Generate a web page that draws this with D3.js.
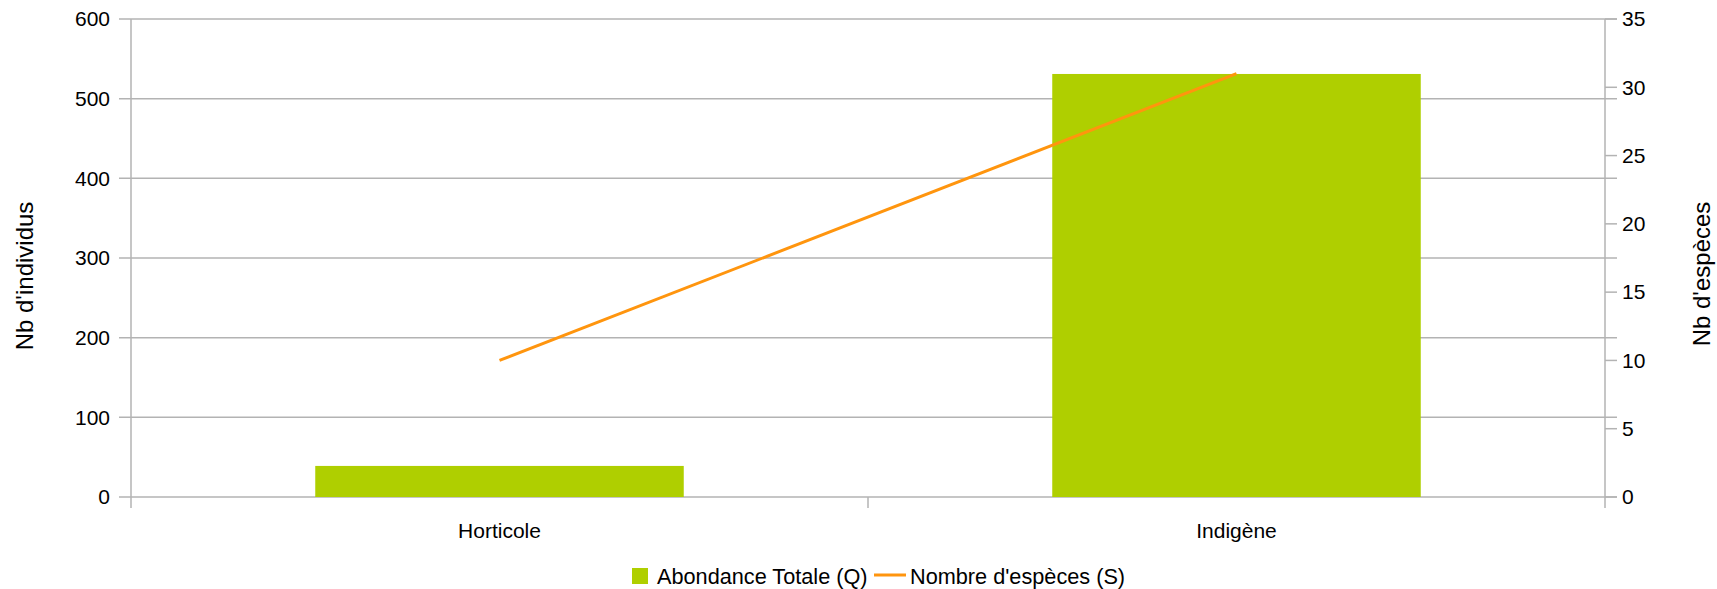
<!DOCTYPE html>
<html>
<head>
<meta charset="utf-8">
<script src="https://cdn.jsdelivr.net/npm/d3@7"></script>
<style>
  html, body { margin: 0; padding: 0; background: #fff; }
  svg { display: block; font-family: "Liberation Sans", Arial, sans-serif; }
</style>
</head>
<body>
<svg id="chart" width="1717" height="589"></svg>
<script>
const categories = ["Horticole", "Indigène"];
const abondance = [39, 531];
const especes = [10, 31];
const leftTicks = [0, 100, 200, 300, 400, 500, 600];
const rightTicks = [0, 5, 10, 15, 20, 25, 30, 35];
const legendLabels = ["Abondance Totale (Q)", "Nombre d'espèces (S)"];
const leftTitle = "Nb d'individus";
const rightTitle = "Nb d'espèces";

const W = 1717, H = 589;
const m = { left: 131, right: 1605, top: 19, bottom: 497 };
const gridColor = "#b3b3b3";
const barColor = "#afcf00";
const lineColor = "#ff950e";
const fs = 21;

const svg = d3.select("#chart");

const x = d3.scaleBand().domain(categories).range([m.left, m.right]).paddingInner(0.5).paddingOuter(0.25);
const yL = d3.scaleLinear().domain([0, 600]).range([m.bottom, m.top]);
const yR = d3.scaleLinear().domain([0, 35]).range([m.bottom, m.top]);

// gridlines
svg.append("g").selectAll("line").data(leftTicks).join("line")
  .attr("x1", m.left - 12).attr("x2", m.right + 12)
  .attr("y1", d => yL(d)).attr("y2", d => yL(d))
  .attr("stroke", gridColor).attr("stroke-width", 1.5);

// bars
svg.append("g").selectAll("rect").data(categories).join("rect")
  .attr("x", d => x(d)).attr("width", x.bandwidth())
  .attr("y", (d, i) => yL(abondance[i]))
  .attr("height", (d, i) => yL(0) - yL(abondance[i]))
  .attr("fill", barColor);

// axis lines
svg.append("line").attr("x1", m.left).attr("x2", m.left).attr("y1", m.top).attr("y2", m.bottom + 11)
  .attr("stroke", gridColor).attr("stroke-width", 1.5);
svg.append("line").attr("x1", m.right).attr("x2", m.right).attr("y1", m.top).attr("y2", m.bottom + 11)
  .attr("stroke", gridColor).attr("stroke-width", 1.5);
// category separator tick
const step = x.step();
const sepX = [m.left + step];
svg.append("g").selectAll("line").data(sepX).join("line")
  .attr("x1", d => d).attr("x2", d => d).attr("y1", m.bottom).attr("y2", m.bottom + 11)
  .attr("stroke", gridColor).attr("stroke-width", 1.5);
// right ticks
svg.append("g").selectAll("line").data(rightTicks).join("line")
  .attr("x1", m.right).attr("x2", m.right + 12)
  .attr("y1", d => yR(d)).attr("y2", d => yR(d))
  .attr("stroke", gridColor).attr("stroke-width", 1.5);

// line
const line = d3.line().x((d, i) => x(categories[i]) + x.bandwidth() / 2).y(d => yR(d));
svg.append("path").datum(especes).attr("d", line)
  .attr("fill", "none").attr("stroke", lineColor).attr("stroke-width", 3);

// tick labels
svg.append("g").selectAll("text").data(leftTicks).join("text")
  .attr("x", m.left - 21).attr("y", d => yL(d)).attr("dy", "0.35em")
  .attr("text-anchor", "end").attr("font-size", fs).attr("fill", "#000").text(d => d);
svg.append("g").selectAll("text").data(rightTicks).join("text")
  .attr("x", m.right + 17).attr("y", d => yR(d)).attr("dy", "0.35em")
  .attr("text-anchor", "start").attr("font-size", fs).attr("fill", "#000").text(d => d);

// category labels
svg.append("g").selectAll("text").data(categories).join("text")
  .attr("x", d => x(d) + x.bandwidth() / 2).attr("y", 538)
  .attr("text-anchor", "middle").attr("font-size", fs).attr("fill", "#000").text(d => d);

// axis titles
svg.append("text").attr("transform", "translate(33,276) rotate(-90)")
  .attr("text-anchor", "middle").attr("font-size", 24).attr("fill", "#000").text(leftTitle);
svg.append("text").attr("transform", "translate(1710,274) rotate(-90)")
  .attr("text-anchor", "middle").attr("font-size", 24).attr("fill", "#000").text(rightTitle);

// legend
const lfs = 21.7;
const lg = svg.append("g");
lg.append("rect").attr("x", 632).attr("y", 568).attr("width", 16).attr("height", 16).attr("fill", barColor);
lg.append("text").attr("x", 657).attr("y", 584).attr("font-size", lfs).attr("fill", "#000").text(legendLabels[0]);
lg.append("line").attr("x1", 874).attr("x2", 906).attr("y1", 575).attr("y2", 575)
  .attr("stroke", lineColor).attr("stroke-width", 3);
lg.append("text").attr("x", 910).attr("y", 584).attr("font-size", lfs).attr("fill", "#000").text(legendLabels[1]);
</script>
</body>
</html>
